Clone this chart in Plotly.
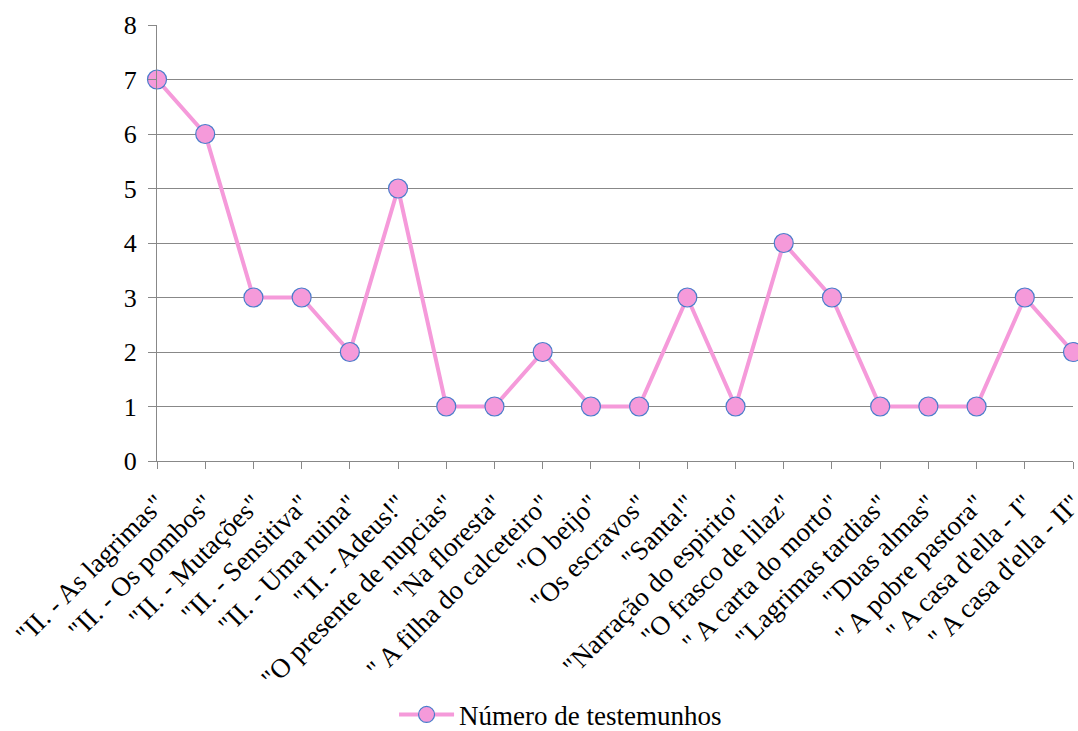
import plotly.graph_objects as go

titles = [
    '"II. - As lagrimas"', '"II. - Os pombos"', '"II. - Mutações"', '"II. - Sensitiva"',
    '"II. - Uma ruina"', '"II. - Adeus!"', '"O presente de nupcias"', '"Na floresta"',
    '" A filha do calceteiro"', '"O beijo"', '"Os escravos"', '"Santa!"',
    '"Narração do espirito"', '"O frasco de lilaz"', '" A carta do morto"',
    '"Lagrimas tardias"', '"Duas almas"', '" A pobre pastora"', '" A casa d\'ella - I"',
    '" A casa d\'ella - II"',
]
testemunhos = [7, 6, 3, 3, 2, 5, 1, 1, 2, 1, 1, 3, 1, 4, 3, 1, 1, 1, 3, 2]
y_ticks = [0, 1, 2, 3, 4, 5, 6, 7, 8]

font_family = "Liberation Serif, Times New Roman, serif"
grid_color = "#888888"

fig = go.Figure()
fig.add_trace(go.Scatter(
    x=list(range(len(titles))),
    y=testemunhos,
    mode="lines+markers",
    name="Número de testemunhos",
    line=dict(color="#F59ADA", width=4),
    marker=dict(size=19, color="#F59ADA", line=dict(color="#4A7DCB", width=1.2)),
    cliponaxis=False,
))

fig.update_layout(
    width=1078, height=731,
    margin=dict(l=157, r=5, t=25, b=270, autoexpand=False),
    paper_bgcolor="white", plot_bgcolor="white",
    font=dict(family=font_family, color="black"),
    showlegend=True,
    legend=dict(orientation="h", xref="container", yref="container",
                x=0.52, xanchor="center", y=0.022, yanchor="middle",
                font=dict(size=27, family=font_family), itemwidth=55),
    xaxis=dict(
        range=[0, len(titles) - 1],
        tickmode="array", tickvals=list(range(len(titles))), ticktext=titles,
        tickangle=-45, tickfont=dict(size=27), ticklabeloverflow="allow",
        ticklabelstandoff=8,
        showgrid=False, zeroline=False, automargin=False,
        showline=True, linecolor=grid_color, linewidth=1,
        ticks="outside", ticklen=7, tickcolor=grid_color,
    ),
    yaxis=dict(
        range=[0, 8], tickmode="array", tickvals=y_ticks,
        tickfont=dict(size=26), automargin=False, ticklabelstandoff=6,
        showgrid=True, gridcolor=grid_color, gridwidth=1,
        zeroline=False,
        showline=True, linecolor=grid_color, linewidth=1,
        ticks="outside", ticklen=8, tickcolor=grid_color,
    ),
)

fig.write_html("out.html")
